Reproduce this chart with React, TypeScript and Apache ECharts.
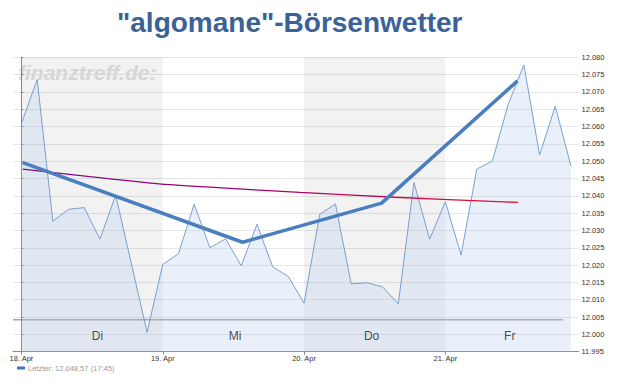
import React, { useEffect, useRef } from "react";
import * as echarts from "echarts";

// x positions are sample slots (9 per trading day), day ticks at 0, 9, 18, 27
const priceValues = [
  12060.9, 12073.6, 12032.7, 12036.1, 12036.6, 12027.5, 12040.2, 12020.4, 12000.6,
  12020.2, 12023.3, 12037.6, 12025.0, 12027.6, 12019.8, 12031.8, 12019.5, 12016.7,
  12009.0, 12034.7, 12037.6, 12014.6, 12014.9, 12013.7, 12008.8, 12043.8, 12027.5,
  12038.3, 12022.9, 12047.7, 12050.1, 12066.4, 12077.8, 12051.8, 12065.9, 12048.57,
];
const trendX = [0.08, 14.08, 22.94, 31.6];
const trendValues = [12049.6, 12026.6, 12037.9, 12073.2];
const avgX = [0.08, 8.2, 12.0, 17.74, 23.79, 31.63];
const avgValues = [12047.7, 12043.7, 12042.5, 12041.0, 12039.6, 12038.1];
const dayTickPos = [0, 9, 18, 27];
const dayTickLabels = ["18. Apr", "19. Apr", "20. Apr", "21. Apr"];
const dayNames = ["Di", "Mi", "Do", "Fr"];
const dayNamePos = [4.84, 13.6, 22.3, 31.1];
const dayNameLevel = 11999.5;
const separatorX = [-0.54, 34.5];
const separatorLevel = 12004.2;
const shadedDays = [
  [0, 9],
  [18, 27],
];
const legendName = "Letzter: 12.048,57 (17:45)";
const titleText = '"algomane"-Börsenwetter';
const watermark = "finanztreff.de:";

const fmtY = (v: number) => {
  const r = Math.round(v);
  const th = Math.floor(r / 1000);
  const rest = String(r % 1000).padStart(3, "0");
  return th + "." + rest;
};

export default function App() {
  const ref = useRef<HTMLDivElement>(null);
  useEffect(() => {
    if (!ref.current) return;
    const chart = echarts.init(ref.current, null, { renderer: "svg" });
    const font = "Liberation Sans, Arial, sans-serif";
    chart.setOption({
      animation: false,
      title: {
        text: titleText,
        left: 117,
        top: 8,
        padding: 0,
        textStyle: { fontFamily: font, fontSize: 28, fontWeight: "bold", color: "#3a6296" },
      },
      graphic: [
        {
          type: "text",
          left: 18,
          top: 62,
          z: -1,
          style: {
            text: watermark,
            font: "italic bold 21px Liberation Sans, Arial, sans-serif",
            fill: "#e2e2e2",
          },
        },
      ],
      legend: {
        left: 17,
        top: 364,
        padding: 0,
        itemWidth: 8,
        itemHeight: 3,
        itemGap: 4,
        data: [{ name: legendName, icon: "rect", itemStyle: { color: "#3b74c0" } }],
        textStyle: { fontFamily: font, fontSize: 7.5, color: "#9a9a9a", padding: [0, 0, 0, -2] },
      },
      grid: { left: 13, right: 54.5, top: 57.3, bottom: 38.3, containLabel: false },
      xAxis: {
        type: "value",
        min: -0.54,
        max: 35.48,
        splitLine: { show: false },
        axisLine: { show: true, lineStyle: { color: "#8a8a8a", width: 1 } },
        axisTick: { show: true, length: 3, lineStyle: { color: "#8a8a8a" }, customValues: dayTickPos },
        axisLabel: {
          customValues: dayTickPos,
          formatter: (v: number) => {
            const i = dayTickPos.indexOf(Math.round(v));
            return i >= 0 ? dayTickLabels[i] : "";
          },
          fontFamily: font,
          fontSize: 7.5,
          color: "#333",
          margin: 3,
        },
      },
      yAxis: {
        type: "value",
        position: "right",
        min: 11995,
        max: 12080,
        interval: 5,
        axisLine: { show: true, lineStyle: { color: "#8a8a8a", width: 1 } },
        axisTick: { show: true, length: 2, lineStyle: { color: "#8a8a8a" } },
        splitLine: { show: true, lineStyle: { color: "#e6e6e6", width: 1 } },
        axisLabel: { formatter: fmtY, fontFamily: font, fontSize: 7.5, color: "#333", margin: 3 },
      },
      series: [
        {
          name: "sep",
          type: "line",
          silent: true,
          symbol: "none",
          z: 1,
          data: separatorX.map((x) => [x, separatorLevel]),
          lineStyle: { color: "#7a7a7a", width: 1 },
          markArea: {
            silent: true,
            itemStyle: { color: "rgba(0,0,0,0.05)" },
            data: shadedDays.map(([a, b]) => [{ xAxis: a }, { xAxis: b }]),
          },
        },
        {
          name: legendName,
          type: "line",
          symbol: "none",
          z: 2,
          data: priceValues.map((v, i) => [i, v]),
          lineStyle: { color: "#7a9fd0", width: 1 },
          areaStyle: { color: "rgba(180,205,235,0.42)", origin: "start" },
        },
        {
          name: "avg",
          type: "line",
          symbol: "none",
          smooth: 0.3,
          z: 3,
          data: avgX.map((x, i) => [x, avgValues[i]]),
          lineStyle: {
            width: 1.3,
            color: new echarts.graphic.LinearGradient(0, 0, 1, 0, [
              { offset: 0, color: "#7a0a8c" },
              { offset: 0.5, color: "#a6006e" },
              { offset: 1, color: "#e8102e" },
            ]),
          },
        },
        {
          name: "trend",
          type: "line",
          symbol: "none",
          z: 4,
          data: trendX.map((x, i) => [x, trendValues[i]]),
          lineStyle: { color: "#4a7ebf", width: 3.5 },
        },
        {
          name: "days",
          type: "scatter",
          symbolSize: 0,
          silent: true,
          z: 5,
          data: dayNames.map((n, i) => ({ name: n, value: [dayNamePos[i], dayNameLevel] })),
          label: {
            show: true,
            position: "inside",
            formatter: (p: any) => p.name,
            fontFamily: font,
            fontSize: 12,
            color: "#222",
          },
        },
      ],
    });
    return () => chart.dispose();
  }, []);
  return (
    <div
      ref={ref}
      style={{ position: "fixed", left: 0, top: 0, width: 633, height: 390, background: "#fff" }}
    />
  );
}
